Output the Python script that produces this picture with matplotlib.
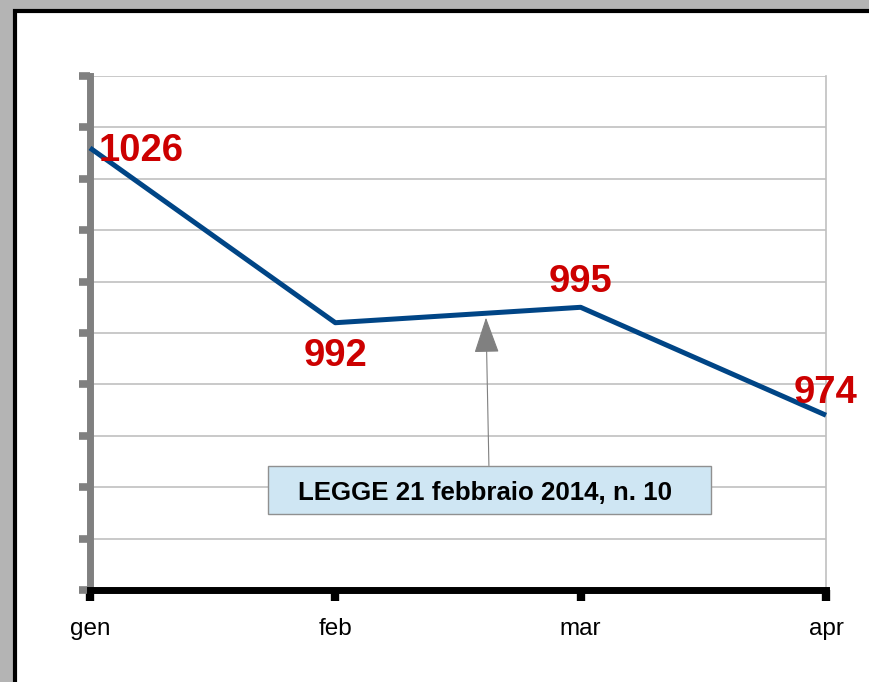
import matplotlib
matplotlib.use("Agg")
import matplotlib.pyplot as plt
from matplotlib.patches import Rectangle

months = ["gen", "feb", "mar", "apr"]
values = [1026, 992, 995, 974]
note_text = "LEGGE 21 febbraio 2014, n. 10"

plt.rcParams['font.family'] = ['Liberation Sans', 'DejaVu Sans']

W, H = 869, 682
fig = plt.figure(figsize=(W / 100, H / 100), dpi=100, facecolor="#b4b4b4")

# white panel with black border
panel = Rectangle((15 / W, -0.05), 1.0, 1 - 10.5 / H + 0.05, transform=fig.transFigure,
                  facecolor="white", edgecolor="black", linewidth=3, zorder=-10)
fig.patches.append(panel)

ax = fig.add_axes([90 / W, (H - 590) / H, (826 - 90) / W, (590 - 76) / H])
ax.set_zorder(1)
ax.set_facecolor("none")
x = list(range(len(months)))
ax.plot(x, values, color="#004586", linewidth=3.6, solid_capstyle="butt", zorder=3,
        clip_on=False)

ax.set_xlim(0, 3)
ax.set_ylim(940, 1040)
ax.set_yticks(range(940, 1041, 10))
ax.set_yticklabels([])
ax.set_xticks(x)
ax.set_xticklabels(months, fontsize=17.5)
ax.yaxis.grid(True, color="#c0c0c0", linewidth=1.2, zorder=0)
ax.set_axisbelow(True)

ax.spines["top"].set_visible(False)
ax.spines["right"].set_color("#c0c0c0")
ax.spines["right"].set_linewidth(1.2)
ax.spines["left"].set_color("#808080")
ax.spines["left"].set_linewidth(5)
ax.spines["bottom"].set_color("black")
ax.spines["bottom"].set_linewidth(5)
ax.spines["bottom"].set_zorder(4)
ax.tick_params(axis="y", direction="out", length=8, width=5.5, color="#808080")
ax.tick_params(axis="x", direction="out", length=8, width=6, color="black",
               pad=12, labelcolor="black")

# data labels
red = "#cc0000"
lab_kw = dict(color=red, fontsize=27.5, fontweight="bold", zorder=5,
              textcoords="offset points", va="baseline", annotation_clip=False)
ax.annotate(str(values[0]), (0, values[0]), xytext=(6, -9.4), ha="left", **lab_kw)
ax.annotate(str(values[1]), (1, values[1]), xytext=(0, -31), ha="center", **lab_kw)
ax.annotate(str(values[2]), (2, values[2]), xytext=(0, 10.8), ha="center", **lab_kw)
ax.annotate(str(values[3]), (3, values[3]), xytext=(0, 8.6), ha="center", **lab_kw)

# note box with arrow
ax.annotate("", xy=(1.614, 993.0), xytext=(1.626, 964.2),
            arrowprops=dict(arrowstyle="-|>,head_length=2.3,head_width=0.8",
                            color="#808080", linewidth=0.8, shrinkA=0, shrinkB=0),
            zorder=4)
bx0, bx1 = (268 - 90) / 736, (711 - 90) / 736
by0, by1 = (590 - 514) / 514, (590 - 466) / 514
ax.add_patch(Rectangle((bx0, by0), bx1 - bx0, by1 - by0, transform=ax.transAxes,
                       facecolor="#cfe6f3", edgecolor="#909090", linewidth=1, zorder=6))
ax.text((bx0 + bx1) / 2 - 5 / 736, (by0 + by1) / 2, note_text, transform=ax.transAxes,
        ha="center", va="center_baseline", fontsize=18.6, fontweight="bold",
        color="black", zorder=7)

fig.savefig("out.png", dpi=100, facecolor=fig.get_facecolor())
